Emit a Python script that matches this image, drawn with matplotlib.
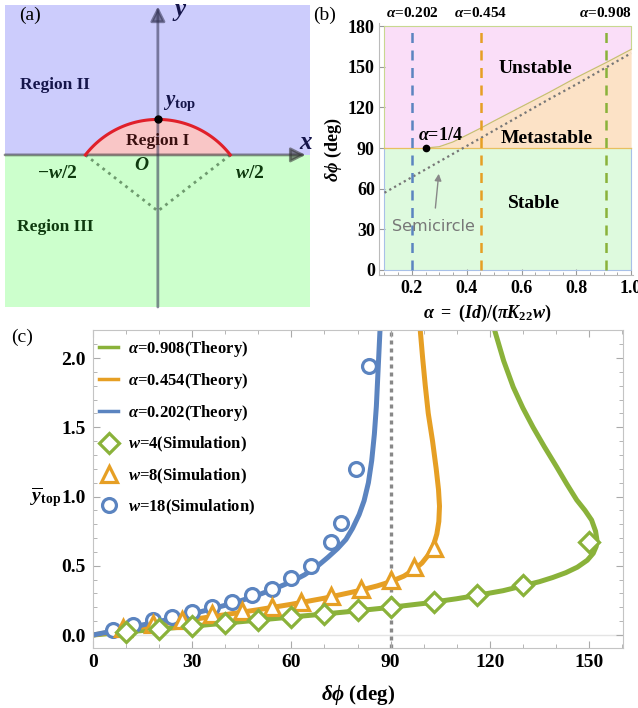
import numpy as np
import matplotlib
matplotlib.use("Agg")
import matplotlib.pyplot as plt
from matplotlib.lines import Line2D
from matplotlib.ticker import MultipleLocator, FormatStrFormatter

plt.rcParams['font.family'] = ['Liberation Serif', 'DejaVu Serif']
plt.rcParams['font.weight'] = 'bold'
plt.rcParams['axes.labelweight'] = 'bold'
plt.rcParams['mathtext.fontset'] = 'custom'
plt.rcParams['mathtext.rm'] = 'Liberation Serif:bold'
plt.rcParams['mathtext.it'] = 'Liberation Serif:italic:bold'
plt.rcParams['mathtext.bf'] = 'Liberation Serif:bold'
plt.rcParams['mathtext.fallback'] = 'stix'

# ---------------- data ----------------
# (a) schematic, lengths in units of w/2
half_w = 1.0
y_top = 0.49

# (b) phase diagram
alpha_marks = [0.202, 0.454, 0.908]
alpha_edge = [0.25, 0.3, 0.35, 0.4, 0.454, 0.5, 0.6, 0.7, 0.8, 0.908, 1.0]
dphi_edge = [90, 91, 94.5, 99.5, 105, 110, 120.5, 131, 142, 153, 162.8]
alpha_semi = [0.1, 0.2, 0.3, 0.4, 0.5, 0.6, 0.7, 0.8, 0.9, 1.0]
dphi_semi = [57, 68.5, 80, 91.5, 103, 114.5, 126, 137, 148.5, 160]

# (c) theory curves
th202_x = [0, 5, 10, 15, 20, 25, 30, 35, 40, 45, 50, 55, 60, 64, 68, 71, 74, 76.5,
           78.5, 80.5, 82, 83.3, 84.3, 85.1, 85.7, 86.2, 86.6, 86.9]
th202_y = [0, 0.024, 0.048, 0.073, 0.098, 0.125, 0.153, 0.183, 0.215, 0.25, 0.29,
           0.335, 0.385, 0.435, 0.5, 0.56, 0.625, 0.69, 0.77, 0.87, 0.97, 1.1, 1.26,
           1.45, 1.65, 1.9, 2.1, 2.25]
th454_x = [0, 10, 20, 30, 40, 50, 60, 70, 80, 86, 90, 94, 97, 99.5, 101.5, 103, 104,
           104.6, 104.8, 104.5, 103.8, 102.7, 101.4, 100.5, 99.7, 98.8]
th454_y = [0, 0.04, 0.077, 0.112, 0.147, 0.183, 0.222, 0.266, 0.318, 0.355, 0.385,
           0.425, 0.47, 0.52, 0.58, 0.65, 0.73, 0.82, 0.93, 1.05, 1.2, 1.4, 1.6, 1.8,
           2.0, 2.25]
th908_x = [0, 10, 20, 30, 40, 50, 60, 70, 80, 90, 100, 110, 117, 124, 130, 135, 139,
           143, 146.5, 149.5, 151.3, 152.2, 152.4, 152, 150.8, 148.8, 146.3, 143.3,
           140.2, 136.5, 133.1, 130, 127.1, 124.2, 121.6, 121]
th908_y = [0, 0.022, 0.043, 0.064, 0.086, 0.108, 0.13, 0.152, 0.175, 0.2, 0.228, 0.262,
           0.29, 0.32, 0.355, 0.385, 0.415, 0.45, 0.49, 0.54, 0.59, 0.64, 0.69, 0.75,
           0.83, 0.9, 0.975, 1.09, 1.215, 1.36, 1.5, 1.64, 1.79, 1.98, 2.19, 2.25]

# (c) simulations
w18_x = [6, 12, 18, 24, 30, 36, 42, 48, 54, 60, 66, 72, 75, 79.5, 83.5]
w18_y = [0.036, 0.07, 0.105, 0.13, 0.165, 0.2, 0.24, 0.29, 0.33, 0.41, 0.5, 0.67,
         0.81, 1.2, 1.94]
w8_x = [9, 18, 27, 36, 45, 54, 63, 72, 81, 90, 97, 103]
w8_y = [0.05, 0.08, 0.11, 0.15, 0.175, 0.2, 0.24, 0.28, 0.335, 0.4, 0.49, 0.63]
w4_x = [10, 20, 30, 40, 50, 60, 70, 80, 90, 103, 116, 130, 150]
w4_y = [0.025, 0.045, 0.065, 0.09, 0.11, 0.13, 0.155, 0.18, 0.205, 0.24, 0.29, 0.36,
        0.67]

blue = '#5B84C0'
orange = '#E69F24'
green = '#8AB23A'

fig = plt.figure(figsize=(6.38, 7.08), dpi=100)

# ---------------- (a) ----------------
axa = fig.add_axes([5 / 638, 1 - 307 / 708, 305 / 638, 302 / 708])
axa.set_xlim(-2.11, 2.10)
axa.set_ylim(-2.10, 2.07)
axa.axis('off')
axa.axhspan(0, 2.07, color='#CCCCFC', lw=0)
axa.axhspan(-2.10, 0, color='#CCFFCC', lw=0)

R = (half_w ** 2 + y_top ** 2) / (2 * y_top)
yc = y_top - R
t0 = np.arcsin(half_w / R)
t = np.linspace(-t0, t0, 100)
axa.fill_between(R * np.sin(t), 0, yc + R * np.cos(t), color='#F9C6C6', lw=0)
axa.plot(R * np.sin(t), yc + R * np.cos(t), color='#E0202A', lw=2.2, zorder=4)
axa.plot([-half_w, 0, half_w], [0, yc, 0], color='#6E9A6E', lw=2, ls=(0, (1, 1.6)))

axa.annotate('', xy=(2.04, 0), xytext=(-2.11, 0),
             arrowprops=dict(arrowstyle='-|>', color='#303030', alpha=0.55, lw=2,
                             mutation_scale=22, shrinkA=0, shrinkB=0))
axa.annotate('', xy=(0, 2.05), xytext=(0, -2.10),
             arrowprops=dict(arrowstyle='-|>', color='#303050', alpha=0.55, lw=2,
                             mutation_scale=22, shrinkA=0, shrinkB=0))
axa.plot([0], [y_top], 'o', color='black', ms=5, zorder=5)

axa.text(-1.92, 1.93, '(a)', fontsize=14, fontweight='normal', va='center')
axa.text(0.2, 1.98, r'$y$', fontsize=18, color='#15154A', va='center')
axa.text(1.95, 0.17, r'$x$', fontsize=18, color='#15154A', va='center')
axa.text(-1.42, 0.97, 'Region II', fontsize=12.5, color='#15154A', ha='center', va='center')
axa.text(0.3, 0.71, r'$y_{\rm top}$', fontsize=15, color='#15154A', ha='center', va='center')
axa.text(0.0, 0.19, 'Region I', fontsize=12.5, color='#3A1010', ha='center', va='center')
axa.text(-0.22, -0.14, r'$O$', fontsize=14, color='#0E3A0E', ha='center', va='center')
axa.text(-1.39, -0.25, r'$-w/2$', fontsize=14, color='#0E3A0E', ha='center', va='center')
axa.text(1.27, -0.25, r'$w/2$', fontsize=14, color='#0E3A0E', ha='center', va='center')
axa.text(-1.42, -1.0, 'Region III', fontsize=12.5, color='#0E3A0E', ha='center', va='center')

# ---------------- (b) ----------------
axb = fig.add_axes([379 / 638, 1 - 275.4 / 708, 253.5 / 638, 252 / 708])
axb.set_xlim(0.08, 1.005)
axb.set_ylim(-4, 182)
a_full = [0.1] + alpha_edge
d_full = [90] + dphi_edge
axb.fill_between([0.1, 1.0], 0, 90, color='#DEFADE', lw=0)
axb.fill_between(a_full, d_full, 180, color='#FADEF8', lw=0)
axb.fill_between(alpha_edge, 90, dphi_edge, color='#FCE2C6', lw=0)
axb.plot([0.1, 0.1, 1.0, 1.0], [90, 0, 0, 90], color='#A8C0E8', lw=0.8)
axb.plot([0.1, 0.1, 1.0, 1.0], [90, 180, 180, d_full[-1]], color='#C8D890', lw=0.8)
axb.plot(alpha_edge, dphi_edge, color='#C8C070', lw=0.9)
axb.plot([0.1, 1.0], [90, 90], color='#E8C060', lw=0.9)
axb.plot(alpha_semi, dphi_semi, color='#777777', lw=1.6, ls=(0, (1, 1.5)))
for a, c in zip(alpha_marks, [blue, orange, green]):
    axb.plot([a, a], [0, 180], color=c, lw=1.8, ls=(0, (4, 3)))
    fig.text((412 + (a - 0.202) * 274) / 638, 1 - 13 / 708, r'$\alpha$=%.3f' % a,
             fontsize=11, ha='center', va='center')
axb.plot([0.25], [90], 'o', color='black', ms=4.5, zorder=5)
axb.text(0.222, 99, r'$\alpha$=1/4', fontsize=13, va='center')
axb.text(0.651, 149, 'Unstable', fontsize=14, ha='center', va='center')
axb.text(0.693, 97, 'Metastable', fontsize=14, ha='center', va='center')
axb.text(0.644, 49, 'Stable', fontsize=14, ha='center', va='center')
axb.annotate('Semicircle', xy=(0.298, 71), xytext=(0.279, 32),
             fontsize=11.5, color='#777777', ha='center', va='center',
             fontfamily='DejaVu Sans', fontweight='normal',
             arrowprops=dict(arrowstyle='-|>', color='#888888', lw=1,
                             mutation_scale=10, shrinkA=6, shrinkB=0))
axb.xaxis.set_major_locator(MultipleLocator(0.2))
axb.xaxis.set_minor_locator(MultipleLocator(0.05))
axb.yaxis.set_major_locator(MultipleLocator(30))
axb.xaxis.set_major_formatter(FormatStrFormatter('%.1f'))
axb.set_xticks([0.2, 0.4, 0.6, 0.8, 1.0])
axb.tick_params(which='both', direction='in', color='#999999', labelsize=13, pad=3)
axb.tick_params(which='major', length=4)
axb.tick_params(which='minor', length=2)
for s in ['top', 'right']:
    axb.spines[s].set_visible(False)
for s in ['left', 'bottom']:
    axb.spines[s].set_color('#BBBBBB')
fig.text(333 / 638, 1 - 150 / 708, r'$\delta\phi$ (deg)', fontsize=13, rotation=90,
         ha='center', va='center')
fig.text(487 / 638, 1 - 313 / 708, r'$\alpha\ =\ (Id)/(\pi K_{22}w)$', fontsize=13,
         ha='center', va='center')
fig.text(325 / 638, 1 - 15 / 708, '(b)', fontsize=14, fontweight='normal',
         ha='center', va='center')

# ---------------- (c) ----------------
axc = fig.add_axes([93 / 638, 1 - 647.5 / 708, 530 / 638, 317.2 / 708])
axc.set_xlim(0, 160.3)
axc.set_ylim(-0.09, 2.2)
axc.axhline(0, color='#E4E4E4', lw=1, zorder=0)
axc.axvline(90, color='#888888', lw=2.4, ls=(0, (1.2, 1.2)), zorder=1)
axc.plot(th908_x, th908_y, color=green, lw=3.6, zorder=2)
axc.plot(th454_x, th454_y, color=orange, lw=3.6, zorder=2)
axc.plot(th202_x, th202_y, color=blue, lw=3.6, zorder=2)
axc.plot(w18_x, w18_y, 'o', ms=10, mfc='white', mec=blue, mew=2.3, zorder=3)
axc.plot(w8_x, w8_y, '^', ms=12, mfc='white', mec=orange, mew=2.3, zorder=3)
axc.plot(w4_x, w4_y, 'D', ms=10.5, mfc='white', mec=green, mew=2.3, zorder=3)

handles = [
    Line2D([], [], color=green, lw=2.5),
    Line2D([], [], color=orange, lw=2.5),
    Line2D([], [], color=blue, lw=2.5),
    Line2D([], [], ls='none', marker='D', ms=10.5, mfc='white', mec=green, mew=2.3),
    Line2D([], [], ls='none', marker='^', ms=12, mfc='white', mec=orange, mew=2.3),
    Line2D([], [], ls='none', marker='o', ms=10, mfc='white', mec=blue, mew=2.3),
]
labels = [r'$\alpha$=0.908(Theory)', r'$\alpha$=0.454(Theory)', r'$\alpha$=0.202(Theory)',
          r'$w$=4(Simulation)', r'$w$=8(Simulation)', r'$w$=18(Simulation)']
axc.legend(handles, labels, loc='upper left', bbox_to_anchor=(0.012, 0.972),
           frameon=False, fontsize=12, handlelength=1.1, handletextpad=0.6,
           labelspacing=0.72, borderaxespad=0, borderpad=0)

axc.xaxis.set_major_locator(MultipleLocator(30))
axc.xaxis.set_minor_locator(MultipleLocator(10))
axc.yaxis.set_major_locator(MultipleLocator(0.5))
axc.yaxis.set_minor_locator(MultipleLocator(0.1))
axc.yaxis.set_major_formatter(FormatStrFormatter('%.1f'))
axc.tick_params(which='both', direction='in', color='#AAAAAA', labelsize=14,
                top=True, right=True, pad=5)
axc.tick_params(which='major', length=5)
axc.tick_params(which='minor', length=3)
for s in axc.spines.values():
    s.set_color('#C4C4C4')
axc.set_xlabel(r'$\delta\phi$ (deg)', fontsize=15, fontweight='bold', labelpad=8)
fig.text(46 / 638, 1 - 497 / 708, r'$\overline{y}_{\rm top}$', fontsize=14,
         ha='center', va='center')
fig.text(22 / 638, 1 - 337 / 708, '(c)', fontsize=14, fontweight='normal',
         ha='center', va='center')

fig.savefig('out.png', dpi=100)
